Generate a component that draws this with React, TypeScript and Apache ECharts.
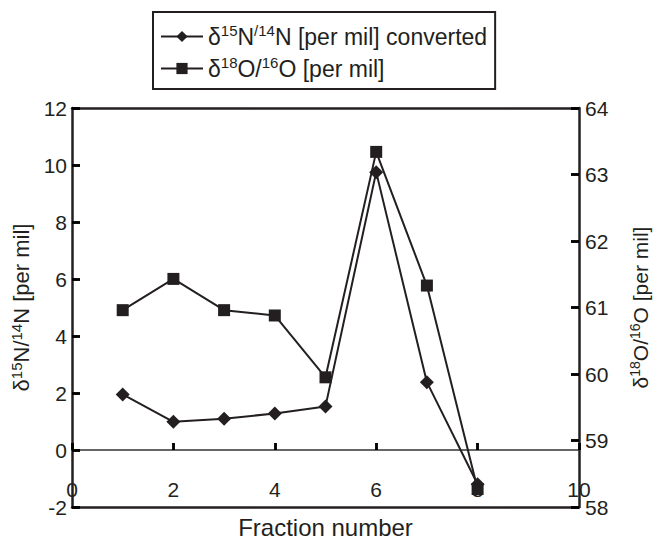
import React, { useEffect, useRef } from "react";
import * as echarts from "echarts";

const fractions = [1, 2, 3, 4, 5, 6, 7, 8];
const nitrogenValues = [1.95, 0.99, 1.1, 1.28, 1.53, 9.75, 2.38, -1.2];
const oxygenValues = [60.96, 61.43, 60.96, 60.88, 59.95, 63.34, 61.33, 58.27];
const seriesNames = ["n15", "o18"];

const X_MIN = 0;
const X_MAX = 10;
const X_STEP = 2;
const LEFT_MIN = -2;
const LEFT_MAX = 12;
const LEFT_STEP = 2;
const RIGHT_MIN = 58;
const RIGHT_MAX = 64;
const RIGHT_STEP = 1;

const INK = "#231f20";
const TICK = "#000000";
const FONT = "'Liberation Sans', Arial, Helvetica, sans-serif";

const CHART_W = 653;
const CHART_H = 545;
const GRID = { left: 72, right: 74, top: 108, bottom: 38 };
const gridHeight = CHART_H - GRID.top - GRID.bottom;
// shift the labelled x axis up so that it sits on the left axis' zero
const zeroOffset = -gridHeight * (0 - LEFT_MIN) / (LEFT_MAX - LEFT_MIN);
const TICK_LEN = 8;

const richMain = (size: number) => ({
  t: { fontSize: size, fontFamily: FONT, color: INK, lineHeight: size + 4, verticalAlign: "middle" },
  s: { fontSize: Math.round(size * 0.66), fontFamily: FONT, color: INK, lineHeight: Math.round(size * 0.66) + 2, verticalAlign: "top" },
});

const frameAxis = (position: "top" | "bottom") => ({
  type: "value",
  position,
  min: X_MIN,
  max: X_MAX,
  interval: X_STEP,
  axisLine: { show: true, onZero: false, lineStyle: { color: INK, width: 2.5 } },
  axisTick: { show: false },
  axisLabel: { show: false },
  splitLine: { show: false },
});

// extra axes, moved into the plot by the tick length, whose outward ticks reach back to the frame
const tickOnlyY = (position: "left" | "right", min: number, max: number, interval: number) => ({
  type: "value",
  position,
  offset: -TICK_LEN,
  min,
  max,
  interval,
  axisLine: { show: false, onZero: false },
  axisTick: { show: true, inside: false, length: TICK_LEN, lineStyle: { color: TICK, width: 2.5 } },
  axisLabel: { show: false },
  splitLine: { show: false },
});

export default function App() {
  const ref = useRef<HTMLDivElement>(null);
  useEffect(() => {
    if (!ref.current) return;
    const chart = echarts.init(ref.current, null, { renderer: "svg" });
    const legendRich = richMain(23);
    const option: any = {
      animation: false,
      backgroundColor: "#ffffff",
      textStyle: { fontFamily: FONT, color: INK },
      grid: {
        ...GRID,
        show: false,
        containLabel: false,
        outerBoundsMode: "none",
      },
      legend: {
        data: seriesNames,
        orient: "vertical",
        left: 153,
        top: 12,
        itemWidth: 42,
        itemHeight: 14,
        itemGap: 7,
        padding: [11, 8, 9, 7],
        borderColor: INK,
        borderWidth: 2,
        formatter: (name: string) =>
          name === "n15"
            ? "{t|δ}{s|15}{t|N}{s|/14}{t|N [per mil] converted}"
            : "{t|δ}{s|18}{t|O/}{s|16}{t|O [per mil]}",
        textStyle: { rich: legendRich, fontSize: 23, color: INK },
      },
      xAxis: [
        {
          type: "value",
          position: "bottom",
          offset: zeroOffset,
          min: X_MIN,
          max: X_MAX,
          interval: X_STEP,
          axisLine: { show: true, onZero: false, lineStyle: { color: "#333", width: 1.5 } },
          axisTick: { show: true, inside: true, length: 7, lineStyle: { color: TICK, width: 2.5 } },
          axisLabel: { show: true, margin: 29, fontSize: 21, color: INK, fontFamily: FONT },
          splitLine: { show: false },
          name: "Fraction number",
          nameLocation: "middle",
          nameGap: 65,
          nameTextStyle: { fontSize: 24, color: INK, fontFamily: FONT },
        },
        frameAxis("top"),
        frameAxis("bottom"),
        {
          type: "value",
          position: "bottom",
          offset: zeroOffset - 7,
          min: X_MIN,
          max: X_MAX,
          interval: X_STEP,
          axisLine: { show: false, onZero: false },
          axisTick: { show: true, inside: false, length: 7, lineStyle: { color: TICK, width: 2.5 } },
          axisLabel: { show: false },
          splitLine: { show: false },
        },
      ],
      yAxis: [
        {
          type: "value",
          position: "left",
          min: LEFT_MIN,
          max: LEFT_MAX,
          interval: LEFT_STEP,
          axisLine: { show: true, onZero: false, lineStyle: { color: INK, width: 2.5 } },
          axisTick: { show: true, inside: true, length: TICK_LEN, lineStyle: { color: TICK, width: 2.5 } },
          axisLabel: { show: true, margin: 5, fontSize: 21, color: INK, fontFamily: FONT },
          splitLine: { show: false },
          name: "{t|δ}{s|15}{t|N/}{s|14}{t|N [per mil]}",
          nameLocation: "middle",
          nameRotate: 90,
          nameGap: 37,
          nameTextStyle: { rich: richMain(22) },
        },
        {
          type: "value",
          position: "right",
          min: RIGHT_MIN,
          max: RIGHT_MAX,
          interval: RIGHT_STEP,
          axisLine: { show: true, onZero: false, lineStyle: { color: INK, width: 2.5 } },
          axisTick: { show: true, inside: true, length: TICK_LEN, lineStyle: { color: TICK, width: 2.5 } },
          axisLabel: { show: true, margin: 6, fontSize: 21, color: INK, fontFamily: FONT },
          splitLine: { show: false },
          name: "{t|δ}{s|18}{t|O/}{s|16}{t|O [per mil]}",
          nameLocation: "middle",
          nameRotate: 90,
          nameGap: 49,
          nameTextStyle: { rich: richMain(21) },
        },
        tickOnlyY("left", LEFT_MIN, LEFT_MAX, LEFT_STEP),
        tickOnlyY("right", RIGHT_MIN, RIGHT_MAX, RIGHT_STEP),
      ],
      series: [
        {
          name: "n15",
          type: "line",
          xAxisIndex: 0,
          yAxisIndex: 0,
          data: fractions.map((f, i) => [f, nitrogenValues[i]]),
          symbol: "diamond",
          symbolSize: 14,
          lineStyle: { color: INK, width: 2 },
          itemStyle: { color: INK },
          z: 3,
        },
        {
          name: "o18",
          type: "line",
          xAxisIndex: 0,
          yAxisIndex: 1,
          data: fractions.map((f, i) => [f, oxygenValues[i]]),
          symbol: "rect",
          symbolSize: 12,
          lineStyle: { color: INK, width: 2 },
          itemStyle: { color: INK },
          z: 4,
        },
      ],
    };
    chart.setOption(option);
    return () => chart.dispose();
  }, []);
  return <div ref={ref} style={{ width: CHART_W, height: CHART_H, position: "absolute", left: 0, top: 0 }} />;
}
